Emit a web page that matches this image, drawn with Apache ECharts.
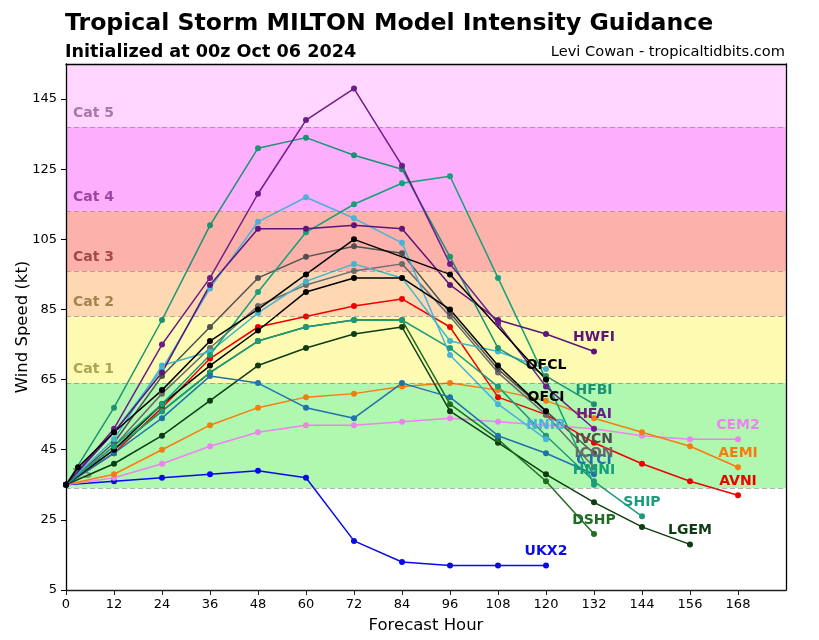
<!DOCTYPE html>
<html>
<head>
<meta charset="utf-8">
<script src="https://cdn.jsdelivr.net/npm/echarts@6/dist/echarts.min.js"></script>
<style>
html,body{margin:0;padding:0;background:#fff;}
#chart{width:819px;height:640px;}
</style>
</head>
<body>
<div id="chart"></div>
<script>
// forecast hours
var hours = [0,12,24,36,48,60,72,84,96,108,120,132,144,156,168];
var ofclHours = [0,3,12,24,36,48,60,72,96,120];
var xTicks = [0,12,24,36,48,60,72,84,96,108,120,132,144,156,168];
var yTicks = [5,25,45,65,85,105,125,145];

// saffir-simpson bands
var bandNames = ['TS','Cat 1','Cat 2','Cat 3','Cat 4','Cat 5'];
var bandLow = [34,64,83,96,113,137];
var bandHigh = [64,83,96,113,137,155];
var bandColors = ['#b0f8b0','#fdfbb2','#fdd8b2','#fcb2aa','#fdaefd','#ffd6ff'];
var bandTextColors = ['#6aaa6a','#a8a652','#a4844e','#a44a46','#9c46a2','#a878aa'];

// model intensities (kt)
var UKX2 = [35,36,37,38,39,37,19,13,12,12,12];
var CEM2 = [35,37,41,46,50,52,52,53,54,53,52,51,49,48,48];
var AEMI = [35,38,45,52,57,60,61,63,64,62,59,54,50,46,40];
var AVNI = [35,44,57,71,80,83,86,88,80,60,55,47,41,36,32];
var LGEM = [35,41,49,59,69,74,78,80,56,47,38,30,23,18];
var DSHP = [35,45,56,67,76,80,82,82,58,48,36,21];
var SHIP = [35,45,56,67,76,80,82,82,74,63,49,36,26];
var CTCI = [35,44,54,66,64,57,54,64,60,49,44,38];
var ICON = [35,46,61,74,86,92,96,98,83,67,55,40];
var IVCN = [35,47,66,80,94,100,103,101,84,68,56,44];
var NNIC = [35,48,69,73,84,93,98,94,76,73,68];
var NNIB = [35,50,68,91,110,117,111,104,72,58,48];
var QFCI = [35,45,58,69,79,90,94,94,85,69,56];
var OFCL = [35,40,50,62,76,85,95,105,95,65];
var HMNI = [35,46,58,72,90,107,115,121,123,94,65,35];
var HWFI = [35,50,67,92,108,108,109,108,92,82,78,73];
var HFBI = [35,57,82,109,131,134,129,125,100,74,66,58];
var HFAI = [35,51,75,94,118,139,148,126,98,81,63,51];

var fontName = 'DejaVu Sans';

function makeSeries(name, xs, vals, color, showLabel){
	var data = [];
	for (var i = 0; i < vals.length; i++) {
		if (vals[i] == null) continue;
		data.push([xs[i], vals[i]]);
	}
	if (showLabel) {
		var last = data[data.length - 1];
		data[data.length - 1] = {
			value: last,
			label: {
				show: true,
				formatter: name,
				position: 'top',
				distance: 4,
				color: color,
				fontFamily: fontName,
				fontWeight: 'bold',
				fontSize: 14
			}
		};
	}
	return {
		type: 'line',
		name: name,
		data: data,
		symbol: 'circle',
		symbolSize: 6,
		showAllSymbol: true,
		lineStyle: {width: 1.5, color: color},
		itemStyle: {color: color},
		emphasis: {disabled: true},
		z: 3
	};
}

var areaData = [];
var lineData = [];
for (var b = 0; b < bandNames.length; b++) {
	areaData.push([
		{
			yAxis: bandLow[b],
			name: bandNames[b],
			itemStyle: {color: bandColors[b]},
			label: {color: bandTextColors[b]}
		},
		{yAxis: bandHigh[b]}
	]);
	lineData.push({yAxis: bandLow[b]});
}

var series = [{
	type: 'line',
	name: 'bands',
	data: [],
	silent: true,
	z: 1,
	markArea: {
		silent: true,
		label: {
			show: true,
			position: 'insideBottomLeft',
			distance: 7,
			fontFamily: fontName,
			fontWeight: 'bold',
			fontSize: 14
		},
		data: areaData
	},
	markLine: {
		silent: true,
		symbol: 'none',
		label: {show: false},
		lineStyle: {type: [5, 3], color: 'rgba(110,110,110,0.5)', width: 1.2},
		data: lineData
	}
}];

series.push(makeSeries('UKX2', hours, UKX2, '#0a0ae8', true));
series.push(makeSeries('CEM2', hours, CEM2, '#ee82ee', true));
series.push(makeSeries('AEMI', hours, AEMI, '#f77c10', true));
series.push(makeSeries('AVNI', hours, AVNI, '#f00000', true));
series.push(makeSeries('LGEM', hours, LGEM, '#0e3c14', true));
series.push(makeSeries('DSHP', hours, DSHP, '#1d6e20', true));
series.push(makeSeries('SHIP', hours, SHIP, '#1c9a7a', true));
series.push(makeSeries('CTCI', hours, CTCI, '#1f72ad', true));
series.push(makeSeries('ICON', hours, ICON, '#6a6a6a', true));
series.push(makeSeries('IVCN', hours, IVCN, '#505050', true));
series.push(makeSeries('NNIC', hours, NNIC, '#3fb6cc', false));
series.push(makeSeries('NNIB', hours, NNIB, '#4ab2da', true));
series.push(makeSeries('QFCI', hours, QFCI, '#000000', true));
series.push(makeSeries('HMNI', hours, HMNI, '#16a07a', true));
series.push(makeSeries('HWFI', hours, HWFI, '#5c1578', true));
series.push(makeSeries('HFBI', hours, HFBI, '#1b9272', true));
series.push(makeSeries('HFAI', hours, HFAI, '#6c1d8a', true));
series.push(makeSeries('OFCL', ofclHours, OFCL, '#000000', true));

var myChart = echarts.init(document.getElementById('chart'), null, {renderer: 'canvas'});
var option = {
	animation: false,
	backgroundColor: '#ffffff',
	textStyle: {fontFamily: fontName},
	title: [
		{
			text: 'Tropical Storm MILTON Model Intensity Guidance',
			left: 65, top: 12, padding: 0,
			textStyle: {fontFamily: fontName, fontWeight: 'bold', fontSize: 23.6, color: '#000'}
		},
		{
			text: 'Initialized at 00z Oct 06 2024',
			left: 65, top: 43, padding: 0,
			textStyle: {fontFamily: fontName, fontWeight: 'bold', fontSize: 17.6, color: '#000'}
		},
		{
			text: 'Levi Cowan - tropicaltidbits.com',
			right: 34, top: 45, padding: 0,
			textStyle: {fontFamily: fontName, fontWeight: 'normal', fontSize: 14.6, color: '#000'}
		}
	],
	grid: {left: 66, right: 33, top: 64, bottom: 50, show: false, containLabel: false, outerBoundsMode: 'none'},
	xAxis: [
		{
			type: 'value', min: 0, max: 180, interval: 12,
			name: 'Forecast Hour', nameLocation: 'middle', nameGap: 27,
			nameTextStyle: {fontFamily: fontName, fontSize: 16.5, color: '#000'},
			axisLine: {show: true, onZero: false, lineStyle: {color: '#222', width: 1.3}},
			axisTick: {show: true, length: 5, customValues: xTicks, lineStyle: {color: '#222'}},
			axisLabel: {customValues: xTicks, margin: 8, fontFamily: fontName, fontSize: 13, color: '#000'},
			splitLine: {show: false},
			z: 10
		},
		{
			type: 'value', min: 0, max: 180, position: 'top',
			axisLine: {show: true, onZero: false, lineStyle: {color: '#000', width: 1.3}},
			axisTick: {show: false}, axisLabel: {show: false}, splitLine: {show: false},
			z: 10
		}
	],
	yAxis: [
		{
			type: 'value', min: 5, max: 155, interval: 20,
			name: 'Wind Speed (kt)', nameLocation: 'middle', nameGap: 35, nameMoveOverlap: false,
			nameTextStyle: {fontFamily: fontName, fontSize: 16.5, color: '#000'},
			axisLine: {show: true, onZero: false, lineStyle: {color: '#000', width: 1.3}},
			axisTick: {show: true, length: 5, customValues: yTicks, lineStyle: {color: '#000'}},
			axisLabel: {customValues: yTicks, margin: 9, fontFamily: fontName, fontSize: 13, color: '#000'},
			splitLine: {show: false},
			z: 10
		},
		{
			type: 'value', min: 5, max: 155, position: 'right',
			axisLine: {show: true, onZero: false, lineStyle: {color: '#000', width: 1.3}},
			axisTick: {show: false}, axisLabel: {show: false}, splitLine: {show: false},
			z: 10
		}
	],
	series: series
};
myChart.setOption(option);
</script>
</body>
</html>
